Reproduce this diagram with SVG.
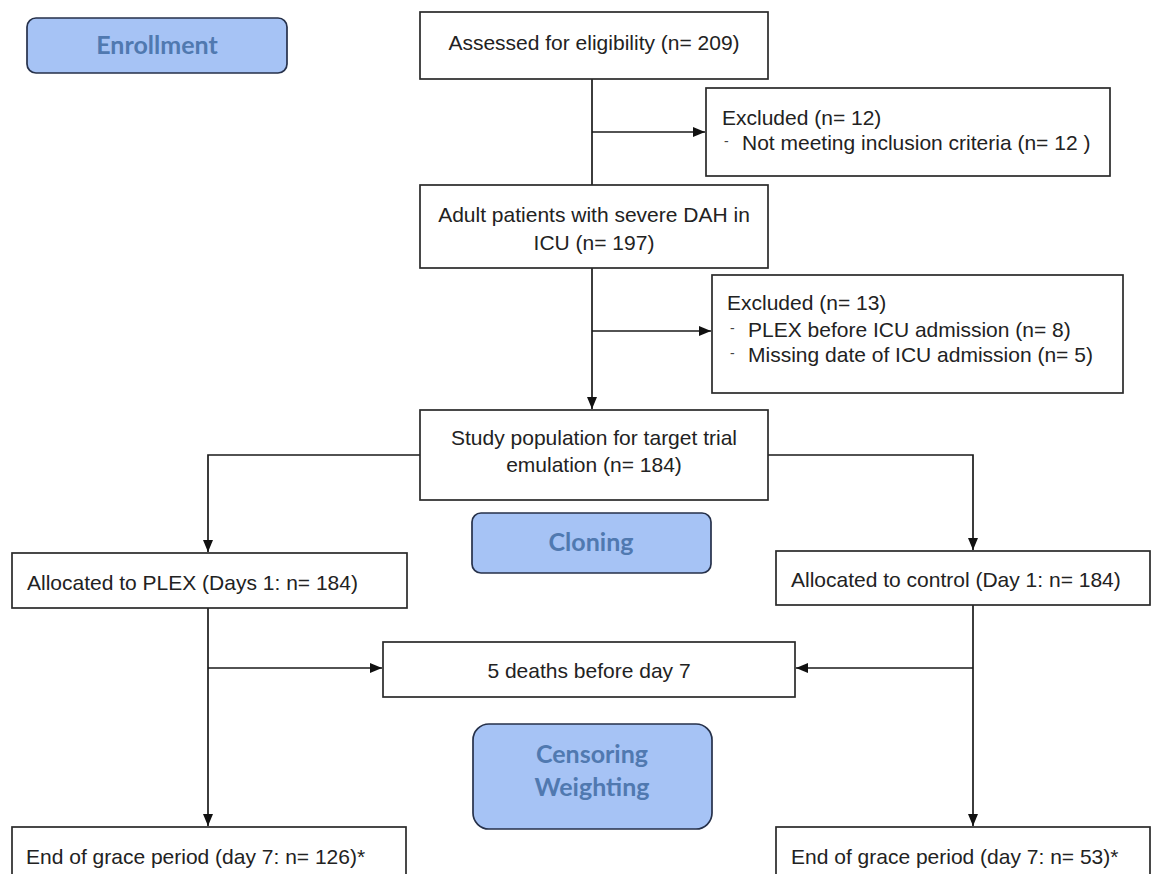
<svg xmlns="http://www.w3.org/2000/svg" width="1158" height="874" viewBox="0 0 1158 874">
<style>
.box{fill:#fff;stroke:#2a2a2a;stroke-width:1.7}
.phase{fill:#a6c3f5;stroke:#26314a;stroke-width:1.7}
.t{font-family:"Liberation Sans",Arial,sans-serif;font-size:21px;fill:#222}
.c{text-anchor:middle}
.d{font-family:"Liberation Sans",Arial,sans-serif;font-size:14px;fill:#444}
.p{font-family:Lato,"Open Sans",sans-serif;font-weight:bold;font-size:25px;fill:#5079b0;text-anchor:middle}
.ln{fill:none;stroke:#1a1a1a;stroke-width:1.7}
</style>
<defs>
<marker id="ah" viewBox="0 0 12 10" refX="12" refY="5" markerWidth="12" markerHeight="10" markerUnits="userSpaceOnUse" orient="auto">
<path d="M0,0 L12,5 L0,10 z" fill="#111"/>
</marker>
</defs>
<g id="connectors">
<path class="ln" d="M592,79 V185"/>
<path class="ln" d="M592,132 H705" marker-end="url(#ah)"/>
<path class="ln" d="M592,268 V409" marker-end="url(#ah)"/>
<path class="ln" d="M592,331 H711" marker-end="url(#ah)"/>
<path class="ln" d="M420,455 H208 V552" marker-end="url(#ah)"/>
<path class="ln" d="M768,455 H973 V550" marker-end="url(#ah)"/>
<path class="ln" d="M208,608 V826" marker-end="url(#ah)"/>
<path class="ln" d="M208,668 H382" marker-end="url(#ah)"/>
<path class="ln" d="M973,605 V826" marker-end="url(#ah)"/>
<path class="ln" d="M973,668 H796" marker-end="url(#ah)"/>
</g>
<g id="enrollment">
<rect class="phase" x="27" y="18" width="260" height="55" rx="9"/>
<text class="p" x="157" y="54">Enrollment</text>
</g>
<g id="assessed">
<rect class="box" x="420" y="12" width="348" height="67"/>
<text class="t c" x="594" y="50">Assessed for eligibility (n= 209)</text>
</g>
<g id="excluded1">
<rect class="box" x="706" y="88" width="404" height="88"/>
<text class="t" x="722" y="125">Excluded (n= 12)</text>
<text class="d" x="724" y="146">-</text>
<text class="t" x="742" y="150">Not meeting inclusion criteria (n= 12 )</text>
</g>
<g id="adult">
<rect class="box" x="420" y="185" width="348" height="83"/>
<text class="t c" x="594" y="222">Adult patients with severe DAH in</text>
<text class="t c" x="594" y="250">ICU (n= 197)</text>
</g>
<g id="excluded2">
<rect class="box" x="712" y="275" width="411" height="118"/>
<text class="t" x="727" y="310">Excluded (n= 13)</text>
<text class="d" x="730" y="333">-</text>
<text class="t" x="748" y="337">PLEX before ICU admission (n= 8)</text>
<text class="d" x="730" y="358">-</text>
<text class="t" x="748" y="362">Missing date of ICU admission (n= 5)</text>
</g>
<g id="study">
<rect class="box" x="420" y="410" width="348" height="90"/>
<text class="t c" x="594" y="445">Study population for target trial</text>
<text class="t c" x="594" y="472">emulation (n= 184)</text>
</g>
<g id="cloning">
<rect class="phase" x="472" y="513" width="239" height="60" rx="9"/>
<text class="p" x="591" y="551">Cloning</text>
</g>
<g id="plex">
<rect class="box" x="12" y="553" width="395" height="55"/>
<text class="t" x="27" y="590">Allocated to PLEX (Days 1: n= 184)</text>
</g>
<g id="control">
<rect class="box" x="776" y="551" width="374" height="54"/>
<text class="t" x="791" y="587">Allocated to control (Day 1: n= 184)</text>
</g>
<g id="deaths">
<rect class="box" x="383" y="642" width="412" height="55"/>
<text class="t c" x="589" y="678">5 deaths before day 7</text>
</g>
<g id="censoring">
<rect class="phase" x="473" y="724" width="239" height="105" rx="16"/>
<text class="p" x="592" y="763">Censoring</text>
<text class="p" x="592" y="796">Weighting</text>
</g>
<g id="end-plex">
<rect class="box" x="12" y="827" width="394" height="70"/>
<text class="t" x="26" y="864">End of grace period (day 7: n= 126)*</text>
</g>
<g id="end-control">
<rect class="box" x="776" y="827" width="374" height="70"/>
<text class="t" x="791" y="864">End of grace period (day 7: n= 53)*</text>
</g>
</svg>
